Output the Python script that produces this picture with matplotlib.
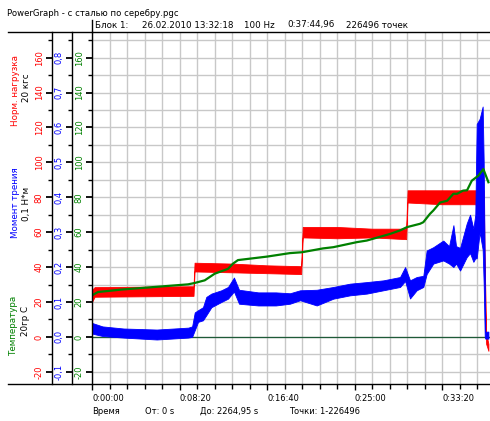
import matplotlib
matplotlib.use('Agg')
import matplotlib.pyplot as plt
from matplotlib.lines import Line2D
from matplotlib.ticker import MultipleLocator, FuncFormatter

plt.rcParams['font.family'] = ['DejaVu Sans']
plt.rcParams['axes.unicode_minus'] = False

W, H = 490, 421
FS = 6

# header / footer text
TITLE = 'PowerGraph - с сталью по серебру.pgc'
HEADER = ['Блок 1:', '26.02.2010 13:32:18', '100 Hz', '0:37:44,96', '226496 точек']
FOOTER = ['Время', 'От: 0 s', 'До: 2264,95 s', 'Точки: 1-226496']

# x axis, seconds
X_TICKS = [0, 500, 1000, 1500, 2000]
X_LABELS = ['0:00:00', '0:08:20', '0:16:40', '0:25:00', '0:33:20']

# normal load, 20 kgf scale (band: low / high edge)
red_t = [0, 15, 560, 580, 586, 800, 1000, 1195, 1204, 1400, 1600, 1795, 1803,
         2000, 2190, 2238, 2244, 2248, 2252, 2265]
red_lo = [20, 23, 23.5, 23.5, 37.5, 37, 36.5, 36, 57, 56.5, 57, 56, 77,
          76, 76, 70, 20, 9, -4, -8]
red_hi = [27, 28.5, 29, 29, 42.5, 42, 41, 40.5, 63, 63, 62, 62, 84,
          84, 84, 84, 40, 23, 2, -4]

# friction moment, N*m
blue_t = [0, 60, 180, 370, 550, 572, 587, 606, 634, 653, 682, 739, 777, 811,
          840, 950, 1050, 1131, 1189, 1284, 1379, 1474, 1570, 1665, 1760,
          1789, 1817, 1855, 1893, 1912, 1950, 2007, 2040, 2065, 2080, 2103,
          2141, 2160, 2179, 2190, 2198, 2215, 2232, 2238, 2244, 2247, 2265]
blue_lo = [0.0095, 0.0025, -0.002, -0.0075, -0.002, 0.0, 0.019, 0.043, 0.0475,
           0.062, 0.085, 0.100, 0.1095, 0.130, 0.095, 0.090, 0.090, 0.095,
           0.105, 0.090, 0.1095, 0.119, 0.124, 0.1335, 0.143, 0.160, 0.110,
           0.1335, 0.143, 0.180, 0.210, 0.219, 0.210, 0.200, 0.210, 0.190,
           0.2285, 0.240, 0.215, 0.225, 0.225, 0.300, 0.250, 0.150, 0.0,
           -0.005, -0.005]
blue_hi = [0.040, 0.030, 0.024, 0.021, 0.0265, 0.030, 0.070, 0.0765, 0.085,
           0.1145, 0.124, 0.1335, 0.143, 0.170, 0.135, 0.1275, 0.1275, 0.125,
           0.1335, 0.135, 0.143, 0.1525, 0.157, 0.162, 0.1715, 0.200, 0.162,
           0.1715, 0.175, 0.2475, 0.257, 0.276, 0.260, 0.320, 0.260, 0.255,
           0.325, 0.350, 0.310, 0.350, 0.610, 0.625, 0.660, 0.500, 0.200,
           0.015, 0.015]

# temperature, 20 deg C scale
green_t = [0, 34, 167, 358, 549, 587, 644, 701, 777, 806, 834, 1000, 1131,
           1200, 1320, 1379, 1514, 1570, 1703, 1760, 1800, 1874, 1893, 1931,
           1950, 1989, 2029, 2065, 2086, 2120, 2143, 2170, 2208, 2236, 2265]
green_v = [23.8, 25.7, 27.1, 28.6, 30.1, 30.9, 32.4, 36.2, 39, 42, 44, 46, 48,
           48.5, 50.7, 51.4, 54.3, 55.2, 59, 61, 62.9, 64.8, 65.7, 70.5,
           72.4, 77, 78, 82, 82, 83.8, 84, 89.5, 92.4, 96.2, 88.6]

RED, BLUE, GREEN = '#ff0000', '#0000ff', '#008000'
Y_LIM = (-27, 174.7)
X_LIM = (0, 2274)


def fx(x):
    return x / W


def fy(y):
    return 1 - y / H


fig = plt.figure(figsize=(W / 100, H / 100), dpi=100)
left, top, bottom = 92, 32, 384
ax = fig.add_axes([fx(left), fy(bottom), 1 - fx(left), (bottom - top) / H])
ax_b = ax.twinx()
ax_g = ax.twinx()

ax.set_xlim(*X_LIM)
ax.set_ylim(*Y_LIM)
ax_g.set_ylim(*Y_LIM)
ax_b.set_ylim(Y_LIM[0] / 200, Y_LIM[1] / 200)

# grid on the main axes
ax.xaxis.set_minor_locator(MultipleLocator(100))
ax.yaxis.set_major_locator(MultipleLocator(20))
ax.yaxis.set_minor_locator(MultipleLocator(10))
ax.grid(True, which='both', color='#c8c8c8', lw=1.0)
ax.set_axisbelow(True)
ax.axhline(0, color='#1e5a38', lw=0.9, zorder=1)

# data
ax.fill_between(red_t, red_lo, red_hi, color=RED, lw=0.6, zorder=2)
ax_b.fill_between(blue_t, blue_lo, blue_hi, color=BLUE, lw=0.6)
ax_g.plot(green_t, green_v, color=GREEN, lw=1.6)

# three left spines
spine_pos = [(ax, -40, RED, 20, 10, lambda v, p: f'{v:.0f}'),
             (ax_b, -20, BLUE, 0.1, 0.05,
              lambda v, p: f'{round(v, 2) + 0:.1f}'.replace('.', ',')),
             (ax_g, 0, GREEN, 20, 10, lambda v, p: f'{v:.0f}')]
width_px = W - left
for a, off, col, major, minor, fmt in spine_pos:
    for s in ('top', 'right', 'bottom'):
        a.spines[s].set_visible(False)
    a.spines['left'].set_visible(True)
    a.spines['left'].set_position(('axes', off / width_px))
    a.spines['left'].set_linewidth(1.0)
    a.yaxis.tick_left()
    a.yaxis.set_major_locator(MultipleLocator(major))
    a.yaxis.set_minor_locator(MultipleLocator(minor))
    a.yaxis.set_major_formatter(FuncFormatter(fmt))
    a.tick_params(axis='y', which='major', length=4.5, width=1.3, pad=1.5,
                  labelsize=FS, labelcolor=col, labelrotation=90)
    a.tick_params(axis='y', which='minor', length=2.8, width=1.0)
    for lab in a.get_yticklabels():
        lab.set_va('center')

ax.set_xticks(X_TICKS, X_LABELS, ha='left')
ax.tick_params(axis='x', which='major', length=4.5, width=1.0, pad=2.5,
               labelsize=FS)
ax.tick_params(axis='x', which='minor', length=3.5, width=1.0)

# frame lines
fig.add_artist(Line2D([fx(8), 1], [fy(top), fy(top)], color='black', lw=1.0))
fig.add_artist(Line2D([fx(8), 1], [fy(bottom), fy(bottom)], color='black', lw=1.0))
fig.add_artist(Line2D([fx(left), fx(left)], [fy(20), fy(top)], color='black', lw=1.0))

# text
fig.text(fx(7), fy(13.5), TITLE, fontsize=6.1, va='center')
for x, s in zip([95, 142, 244, 287, 346], HEADER):
    fig.text(fx(x), fy(25), s, fontsize=6.3, va='center')
for x, s in zip([92, 145, 200, 289], FOOTER):
    fig.text(fx(x), fy(411), s, fontsize=FS, va='center')

axis_titles = [(15, 90, 'Норм. нагрузка', RED), (26, 88, '20 кгс', 'black'),
               (15, 203, 'Момент трения', BLUE), (26, 204, '0,1 Н*м', 'black'),
               (14, 326, 'Температура', GREEN), (25, 321, '20гр С', 'black')]
for x, y, s, c in axis_titles:
    fig.text(fx(x), fy(y), s, rotation=90, color=c, fontsize=FS + 0.3,
             ha='center', va='center')

fig.savefig('out.png', dpi=100)
